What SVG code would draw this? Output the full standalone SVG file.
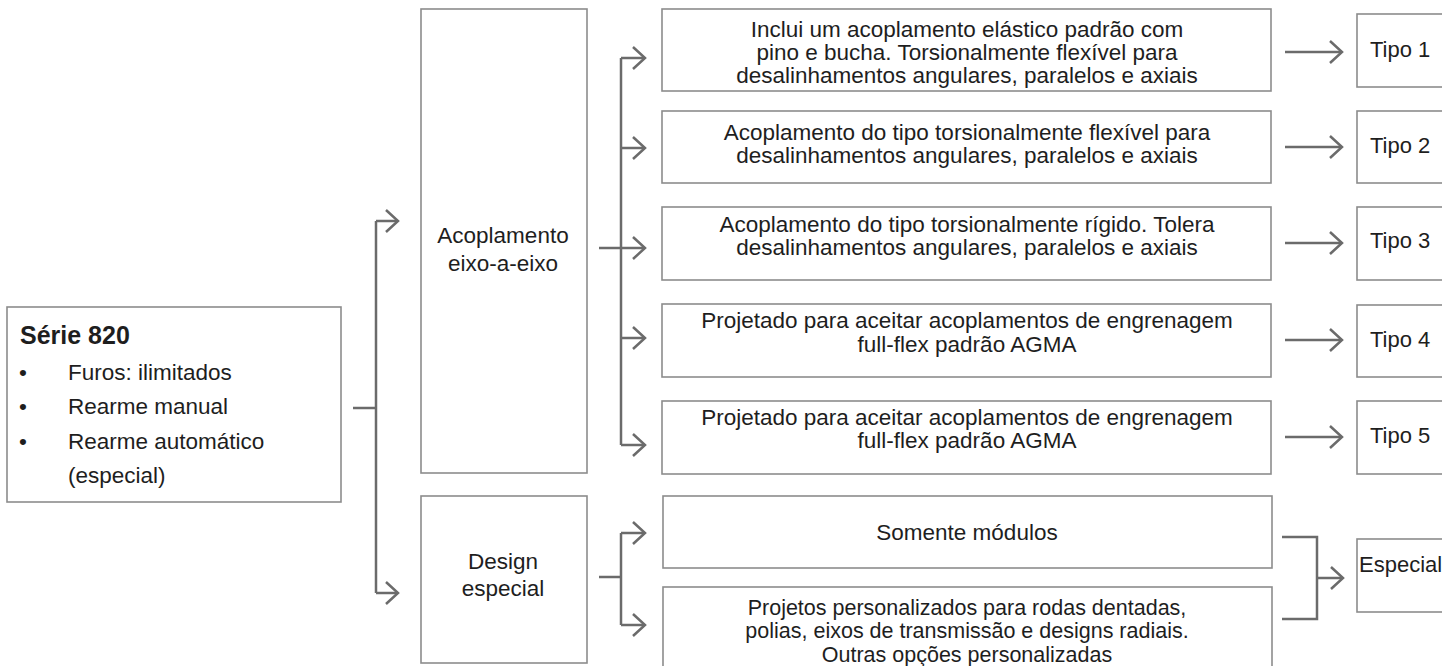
<svg xmlns="http://www.w3.org/2000/svg" width="1442" height="666" viewBox="0 0 1442 666">
<style>
.box{fill:#ffffff;stroke:#8c8c8c;stroke-width:1.6}
.t{font-family:"Liberation Sans",Arial,sans-serif;font-size:22.5px;fill:#1e1e1e}
.c{text-anchor:middle}
.tipo{font-size:22px}
.sm{font-size:21.5px}
.b{font-weight:bold;font-size:25px}
.con{fill:none;stroke:#6b6b6b;stroke-width:2.5}
</style>
<defs>
<marker id="ah" viewBox="0 0 12 22" refX="12" refY="11" markerWidth="12" markerHeight="22" markerUnits="userSpaceOnUse" orient="auto" overflow="visible">
<path d="M0,0 L12,11 L0,22" fill="none" stroke="#6b6b6b" stroke-width="2.5"/>
</marker>
</defs>
<rect width="1442" height="666" fill="#ffffff"/>

<g id="connectors">
<path class="con" d="M353,408 H376 M376,221 V593"/>
<path class="con" d="M376,221 H398" marker-end="url(#ah)"/>
<path class="con" d="M376,593 H398" marker-end="url(#ah)"/>

<path class="con" d="M621,58 V445"/>
<path class="con" d="M621,58 H645" marker-end="url(#ah)"/>
<path class="con" d="M621,148 H645" marker-end="url(#ah)"/>
<path class="con" d="M599,248 H645" marker-end="url(#ah)"/>
<path class="con" d="M621,338 H645" marker-end="url(#ah)"/>
<path class="con" d="M621,445 H645" marker-end="url(#ah)"/>

<path class="con" d="M599,577 H621 M621,533 V625"/>
<path class="con" d="M621,533 H645" marker-end="url(#ah)"/>
<path class="con" d="M621,625 H645" marker-end="url(#ah)"/>

<path class="con" d="M1285,52 H1342" marker-end="url(#ah)"/>
<path class="con" d="M1285,147 H1342" marker-end="url(#ah)"/>
<path class="con" d="M1285,243 H1342" marker-end="url(#ah)"/>
<path class="con" d="M1285,340 H1342" marker-end="url(#ah)"/>
<path class="con" d="M1285,437 H1342" marker-end="url(#ah)"/>

<path class="con" d="M1282,537 H1317 V619 H1282"/>
<path class="con" d="M1317,578 H1343" marker-end="url(#ah)"/>
</g>

<g id="serie820">
<rect class="box" x="7" y="307" width="334" height="195"/>
<text class="t b" x="20" y="344">Série 820</text>
<text class="t" x="19" y="380">•</text>
<text class="t" x="68" y="380">Furos: ilimitados</text>
<text class="t" x="19" y="414">•</text>
<text class="t" x="68" y="414">Rearme manual</text>
<text class="t" x="19" y="449">•</text>
<text class="t" x="68" y="449">Rearme automático</text>
<text class="t" x="68" y="483">(especial)</text>
</g>

<g id="acoplamento">
<rect class="box" x="421" y="9" width="166" height="464"/>
<text class="t c" x="503" y="243">Acoplamento</text>
<text class="t c" x="503" y="271">eixo-a-eixo</text>
</g>

<g id="design">
<rect class="box" x="421" y="496" width="166" height="167"/>
<text class="t c" x="503" y="569">Design</text>
<text class="t c" x="503" y="596">especial</text>
</g>

<g id="desc1">
<rect class="box" x="662" y="9" width="609" height="82"/>
<text class="t c" x="967" y="37">Inclui um acoplamento elástico padrão com</text>
<text class="t c" x="967" y="60">pino e bucha. Torsionalmente flexível para</text>
<text class="t c" x="967" y="83">desalinhamentos angulares, paralelos e axiais</text>
</g>

<g id="desc2">
<rect class="box" x="662" y="111" width="609" height="72"/>
<text class="t c" x="967" y="140">Acoplamento do tipo torsionalmente flexível para</text>
<text class="t c" x="967" y="163">desalinhamentos angulares, paralelos e axiais</text>
</g>

<g id="desc3">
<rect class="box" x="662" y="207" width="609" height="73"/>
<text class="t c" x="967" y="232">Acoplamento do tipo torsionalmente rígido. Tolera</text>
<text class="t c" x="967" y="255">desalinhamentos angulares, paralelos e axiais</text>
</g>

<g id="desc4">
<rect class="box" x="662" y="304" width="609" height="73"/>
<text class="t c" x="967" y="328">Projetado para aceitar acoplamentos de engrenagem</text>
<text class="t c" x="967" y="352">full-flex padrão AGMA</text>
</g>

<g id="desc5">
<rect class="box" x="662" y="401" width="609" height="73"/>
<text class="t c" x="967" y="425">Projetado para aceitar acoplamentos de engrenagem</text>
<text class="t c" x="967" y="448">full-flex padrão AGMA</text>
</g>

<g id="somente">
<rect class="box" x="663" y="496" width="609" height="72"/>
<text class="t c" x="967" y="540">Somente módulos</text>
</g>

<g id="projetos">
<rect class="box" x="663" y="587" width="609" height="100"/>
<text class="t c sm" x="967" y="615">Projetos personalizados para rodas dentadas,</text>
<text class="t c sm" x="967" y="638">polias, eixos de transmissão e designs radiais.</text>
<text class="t c sm" x="967" y="662">Outras opções personalizadas</text>
</g>

<g id="tipo1">
<rect class="box" x="1357" y="14" width="100" height="73"/>
<text class="t tipo" x="1370" y="57">Tipo 1</text>
</g>
<g id="tipo2">
<rect class="box" x="1357" y="111" width="100" height="72"/>
<text class="t tipo" x="1370" y="153">Tipo 2</text>
</g>
<g id="tipo3">
<rect class="box" x="1357" y="207" width="100" height="73"/>
<text class="t tipo" x="1370" y="248">Tipo 3</text>
</g>
<g id="tipo4">
<rect class="box" x="1357" y="305" width="100" height="72"/>
<text class="t tipo" x="1370" y="347">Tipo 4</text>
</g>
<g id="tipo5">
<rect class="box" x="1357" y="401" width="100" height="73"/>
<text class="t tipo" x="1370" y="443">Tipo 5</text>
</g>
<g id="especial">
<rect class="box" x="1357" y="539" width="100" height="73"/>
<text class="t tipo" x="1359" y="572">Especial</text>
</g>
</svg>
